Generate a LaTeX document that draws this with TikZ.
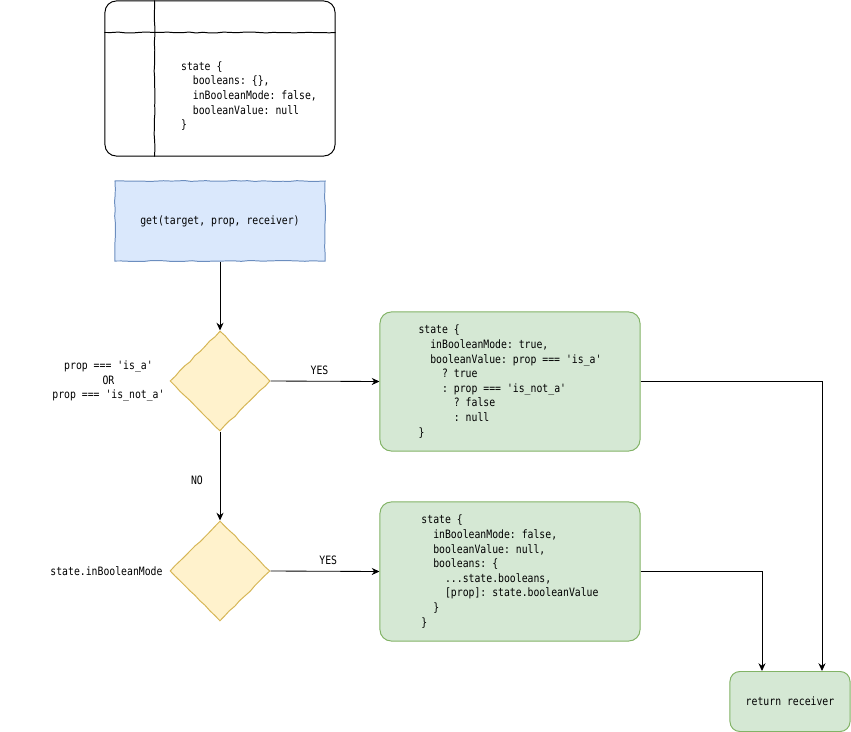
\documentclass[tikz,border=0pt]{standalone}
\usepackage{fontspec}
\setmonofont{DejaVu Sans Mono}[FakeStretch=0.85]
\usetikzlibrary{arrows.meta}
\usetikzlibrary{positioning}
\usetikzlibrary{shapes.geometric}
\usetikzlibrary{decorations.pathmorphing}
\definecolor{flowBlueFill}{HTML}{dae8fc}
\definecolor{flowBlueLine}{HTML}{6c8ebf}
\definecolor{flowAmberFill}{HTML}{fff2cc}
\definecolor{flowAmberLine}{HTML}{d6b656}
\definecolor{flowGreenFill}{HTML}{d5e8d4}
\definecolor{flowGreenLine}{HTML}{82b366}
\tikzset{
  flow sketch/.style={
    decorate,
    decoration={random steps, segment length=5pt, amplitude=0.35pt},
  },
}
\tikzset{
  flow code/.style={
    font=\ttfamily\fontsize{8.2}{10.4}\selectfont,
    text=black,
    align=left,
  },
}
\tikzset{
  flow call/.style={
    rectangle,
    draw=flowBlueLine,
    fill=flowBlueFill,
    line width=0.7pt,
    minimum width=5.25cm,
    minimum height=2cm,
    flow sketch,
    flow code,
  },
}
\tikzset{
  flow test/.style={
    diamond,
    draw=flowAmberLine,
    fill=flowAmberFill,
    line width=0.7pt,
    minimum width=2.5cm,
    minimum height=2.5cm,
    inner sep=0pt,
    flow sketch,
  },
}
\tikzset{
  flow state/.style={
    rectangle,
    rounded corners=8pt,
    draw=flowGreenLine,
    fill=flowGreenFill,
    line width=0.7pt,
    minimum width=6.5cm,
    minimum height=3.475cm,
    flow code,
  },
}
\tikzset{
  flow link/.style={
    -{Stealth[length=5.5pt, width=5pt]},
    draw=black,
    line width=0.6pt,
  },
}
\tikzset{
  flow figure/.style={
    x=0.025cm, y=-0.025cm,
    every node/.append style={flow code},
  },
}

\begin{document}
\begin{tikzpicture}[flow figure]
  \useasboundingbox (0, 0) rectangle (851, 732);
  \pgfmathsetseed{7}

  % =========================================================================
  % Initial state table (top)
  % =========================================================================
  \node[rectangle, rounded corners=8pt, draw=black, fill=white, line width=0.7pt,
        minimum width=5.75cm, minimum height=3.875cm]
    (statetable) at (220, 78.5) {};
  \draw[line width=0.7pt, flow sketch]
    ([xshift=1.25cm]statetable.north west) -- ([xshift=1.25cm]statetable.south west);
  \draw[line width=0.7pt, flow sketch]
    ([yshift=-0.8cm]statetable.north west) -- ([yshift=-0.8cm]statetable.north east);
  \node (initstate) at (249, 96)
    {state \{\\~~booleans: \{\},\\~~inBooleanMode: false,\\~~booleanValue: null\\\}};

  % =========================================================================
  % Trap call
  % =========================================================================
  \node[flow call] (getcall) at (220, 221) {get(target, prop, receiver)};

  % =========================================================================
  % First test: is the prop one of the flags?
  % =========================================================================
  \node[flow test] (isflag) at (220, 381) {};
  \node[align=center, left=0mm of isflag]
    (isflaglabel) {prop === 'is\_a'\\OR\\prop === 'is\_not\_a'};
  \draw[flow link] (getcall.south) -- (isflag.north);

  % =========================================================================
  % YES: switch into boolean mode
  % =========================================================================
  \node[flow state] (setmode) at (510, 381.5)
    {state \{\\
     ~~inBooleanMode: true,\\
     ~~booleanValue: prop === 'is\_a'\\
     ~~~~? true\\
     ~~~~: prop === 'is\_not\_a'\\
     ~~~~~~? false\\
     ~~~~~~: null\\
     \}};
  \draw[flow link]
    (isflag.east) -- node[above=1pt, pos=0.45] {YES} (setmode.west);

  % =========================================================================
  % NO: second test on the mode flag
  % =========================================================================
  \node[flow test] (inmode) at (220, 571) {};
  \node[left=0.5mm of inmode] (inmodelabel) {state.inBooleanMode};
  \draw[flow link]
    (isflag.south) -- node[left=3mm, pos=0.55] {NO} (inmode.north);

  % =========================================================================
  % YES: store the value and leave boolean mode
  % =========================================================================
  \node[flow state] (storeval) at (510, 571.5)
    {state \{\\
     ~~inBooleanMode: false,\\
     ~~booleanValue: null,\\
     ~~booleans: \{\\
     ~~~~...state.booleans,\\
     ~~~~[prop]: state.booleanValue\\
     ~~\}\\
     \}};
  \draw[flow link]
    (inmode.east) -- node[above=1pt, pos=0.53] {YES} (storeval.west);

  % =========================================================================
  % Both branches return the receiver
  % =========================================================================
  \node[flow state, minimum width=3cm, minimum height=1.5cm, rounded corners=7pt]
    (ret) at (790, 701.5) {return receiver};
  \draw[flow link] (setmode.east) -| ([xshift=0.8cm]ret.north);
  \draw[flow link] (storeval.east) -| ([xshift=-0.7cm]ret.north);

\end{tikzpicture}
\end{document}
